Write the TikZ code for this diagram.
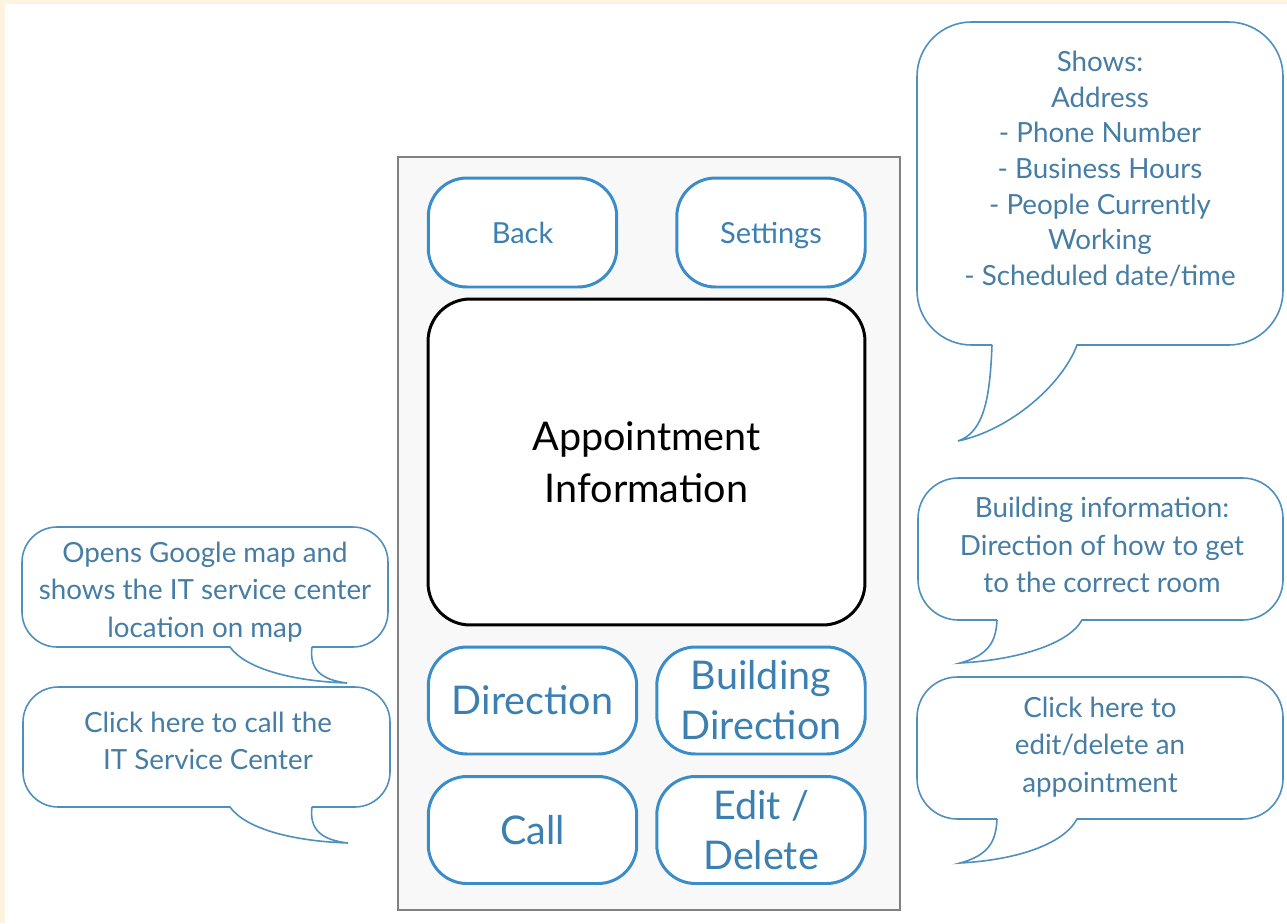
\documentclass[tikz,border=0pt]{standalone}
\usepackage{fontspec}
\setmainfont{Lato}
\definecolor{btnblue}{RGB}{58,141,201}
\definecolor{btntext}{RGB}{60,128,178}
\definecolor{notetext}{RGB}{70,125,165}
\definecolor{noteline}{RGB}{78,143,190}
\definecolor{cream}{RGB}{253,243,222}
\definecolor{phonegray}{RGB}{248,248,248}

\begin{document}
\begin{tikzpicture}[x=0.02cm, y=-0.02cm,
    btn/.style={draw=btnblue, line width=1.7pt, rounded corners=22pt, fill=white, align=center, text=btntext, inner sep=0pt},
    smallbtn/.style={btn, minimum width=3.77cm, minimum height=2.18cm, text depth=0pt, font=\fontsize{16.5}{20}\selectfont},
    bigbtn/.style={btn, minimum width=4.17cm, minimum height=2.14cm, font=\fontsize{22.5}{28.5}\selectfont},
    bubble/.style={draw=noteline, line width=0.9pt},
    note/.style={align=center, text=notetext, inner sep=0pt, font=\fontsize{15.8}{21.2}\selectfont}
]
    % page and frame
    \useasboundingbox (0,0) rectangle (1287,923);
    \fill[white] (0,0) rectangle (1287,923);
    \fill[cream] (0,0) rectangle (1287,4);
    \fill[cream] (0,0) rectangle (5,923);
    \draw[gray, line width=0.6pt, fill=phonegray] (398,157) rectangle (900,910);

    % phone screen
    \node[smallbtn] (back) at (522.5,232.5) {Back};
    \node[smallbtn] (settings) at (771,232.5) {Settings};
    \node[draw, line width=1.7pt, rounded corners=24pt, fill=white, align=center, inner sep=0pt,
          minimum width=8.74cm, minimum height=6.52cm, font=\fontsize{22.5}{29.8}\selectfont]
          (appt) at (646.5,462) {Appointment\\Information};
    \node[bigbtn] (direction) at (532.5,700.5) {Direction};
    \node[bigbtn] (bldgdir) at (761,700.5) {Building\\Direction};
    \node[bigbtn] (call) at (532.5,830) {Call};
    \node[bigbtn] (editdel) at (761,830) {Edit /\\Delete};

    % right side notes
    \draw[bubble] (992,345) [rounded corners=31pt] -- (917,345) -- (917,22) -- (1283,22) -- (1283,345) -- (1150,345)
        [sharp corners] -- (1077,345) .. controls (1062,385) and (1010,430) .. (958,441)
        .. controls (985,432) and (990,395) .. (992,345);
    \node[note, font=\fontsize{15.8}{20.3}\selectfont] (showsnote) at (1100,169)
        {Shows:\\Address\\- Phone Number\\- Business Hours\\- People Currently\\Working\\- Scheduled date/time};

    \draw[bubble] (997,620) [rounded corners=23pt] -- (918,620) -- (918,478) -- (1283,478) -- (1283,620) -- (1150,620)
        [sharp corners] -- (1082,620) .. controls (1068,645) and (1015,660) .. (960,663)
        .. controls (990,655) and (996,640) .. (997,620);
    \node[note] (buildnote) at (1102,545)
        {Building information:\\Direction of how to get\\to the correct room};

    \draw[bubble] (997,819) [rounded corners=23pt] -- (917,819) -- (917,677) -- (1283,677) -- (1283,819) -- (1150,819)
        [sharp corners] -- (1077,819) .. controls (1063,845) and (1015,860) .. (960,863)
        .. controls (990,855) and (996,840) .. (997,819);
    \node[note] (editnote) at (1100,747)
        {Click here to\\edit/delete an\\appointment};

    % left side notes
    \draw[bubble] (312,647) [rounded corners=20pt] -- (388,647) -- (388,527) -- (22,527) -- (22,647) -- (160,647)
        [sharp corners] -- (230,647) .. controls (245,668) and (290,681) .. (347,683)
        .. controls (322,680) and (309,670) .. (312,647);
    \node[note] (mapnote) at (205,592)
        {Opens Google map and\\shows the IT service center\\location on map};

    \draw[bubble] (312,807) [rounded corners=20pt] -- (390,807) -- (390,687) -- (23,687) -- (23,807) -- (160,807)
        [sharp corners] -- (230,807) .. controls (245,828) and (290,841) .. (348,843)
        .. controls (322,840) and (309,830) .. (312,807);
    \node[note] (callnote) at (208,740.5)
        {Click here to call the\\IT Service Center};
\end{tikzpicture}
\end{document}
